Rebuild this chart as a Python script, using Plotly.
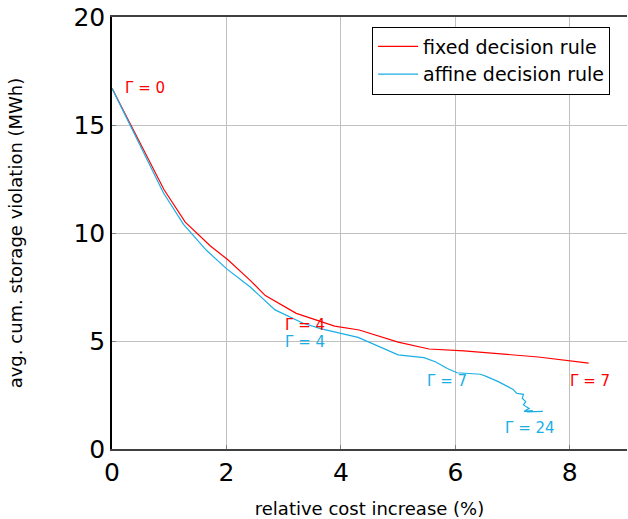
import plotly.graph_objects as go

# fixed decision rule
fixed_x = [0.0, 0.91, 1.28, 1.72, 2.03, 2.41, 2.68, 3.22, 3.89, 4.32, 5.0, 5.54, 6.15, 7.45, 8.33]
fixed_y = [16.7, 12.0, 10.5, 9.4, 8.75, 7.82, 7.1, 6.28, 5.69, 5.51, 4.95, 4.63, 4.54, 4.26, 3.98]

# affine decision rule
affine_x = [0.0, 0.9, 1.25, 1.65, 2.0, 2.41, 2.85, 3.34, 3.66, 4.3, 5.0, 5.45, 5.65, 5.86, 6.03,
            6.18, 6.44, 6.55, 6.75, 7.01, 7.07, 7.19, 7.17, 7.23, 7.19, 7.29, 7.2, 7.35, 7.25, 7.53]
affine_y = [16.7, 11.85, 10.4, 9.2, 8.35, 7.51, 6.44, 5.82, 5.56, 5.17, 4.36, 4.23, 4.04, 3.73, 3.53,
            3.5, 3.46, 3.35, 3.12, 2.76, 2.58, 2.53, 2.35, 2.19, 2.04, 1.88, 1.74, 1.78, 1.72, 1.74]

# annotations (label, x, y, series)
labels = [
    ("Γ = 0", 0.2, 16.7, "fixed"),
    ("Γ = 4", 2.98, 5.75, "fixed"),
    ("Γ = 4", 2.98, 4.95, "affine"),
    ("Γ = 7", 5.47, 3.15, "affine"),
    ("Γ = 7", 7.97, 3.15, "fixed"),
    ("Γ = 24", 6.84, 0.97, "affine"),
]

RED = "#ff0000"
BLUE = "#1aaee5"
FONT = "DejaVu Sans"

fig = go.Figure()
fig.add_trace(go.Scatter(x=fixed_x, y=fixed_y, mode="lines", name="fixed decision rule",
                         line=dict(color=RED, width=1.2)))
fig.add_trace(go.Scatter(x=affine_x, y=affine_y, mode="lines", name="affine decision rule",
                         line=dict(color=BLUE, width=1.2)))

for text, x, y, s in labels:
    fig.add_annotation(x=x, y=y, text=text, showarrow=False, xanchor="left", yanchor="middle",
                       font=dict(family=FONT, size=15, color=RED if s == "fixed" else BLUE))

fig.update_layout(
    width=628, height=519,
    margin=dict(l=112, r=1, t=17, b=70),
    plot_bgcolor="white", paper_bgcolor="white",
    font=dict(family=FONT, color="black"),
    showlegend=True,
    legend=dict(x=0.505, y=0.978, xanchor="left", yanchor="top",
                bordercolor="black", borderwidth=1, bgcolor="white",
                font=dict(family=FONT, size=19), tracegroupgap=0,
                itemwidth=40),
)
fig.update_xaxes(range=[0, 9], tickvals=[0, 2, 4, 6, 8], showgrid=True, gridcolor="#c0c0c0",
                 showline=True, linecolor="#404040", linewidth=1.5, mirror=True,
                 ticks="inside", ticklen=4, tickcolor="#808080", zeroline=False,
                 tickfont=dict(family=FONT, size=25), automargin=False,
                 title=dict(text="relative cost increase (%)", font=dict(family=FONT, size=18), standoff=22))
fig.update_yaxes(range=[0, 20], tickvals=[0, 5, 10, 15, 20], showgrid=True, gridcolor="#c0c0c0",
                 showline=True, linecolor="black", linewidth=1.5,
                 ticks="inside", ticklen=4, tickcolor="#808080", zeroline=False,
                 tickfont=dict(family=FONT, size=25), automargin=False,
                 title=dict(text="avg. cum. storage violation (MWh)", font=dict(family=FONT, size=18), standoff=46))

fig.write_html("out.html")
